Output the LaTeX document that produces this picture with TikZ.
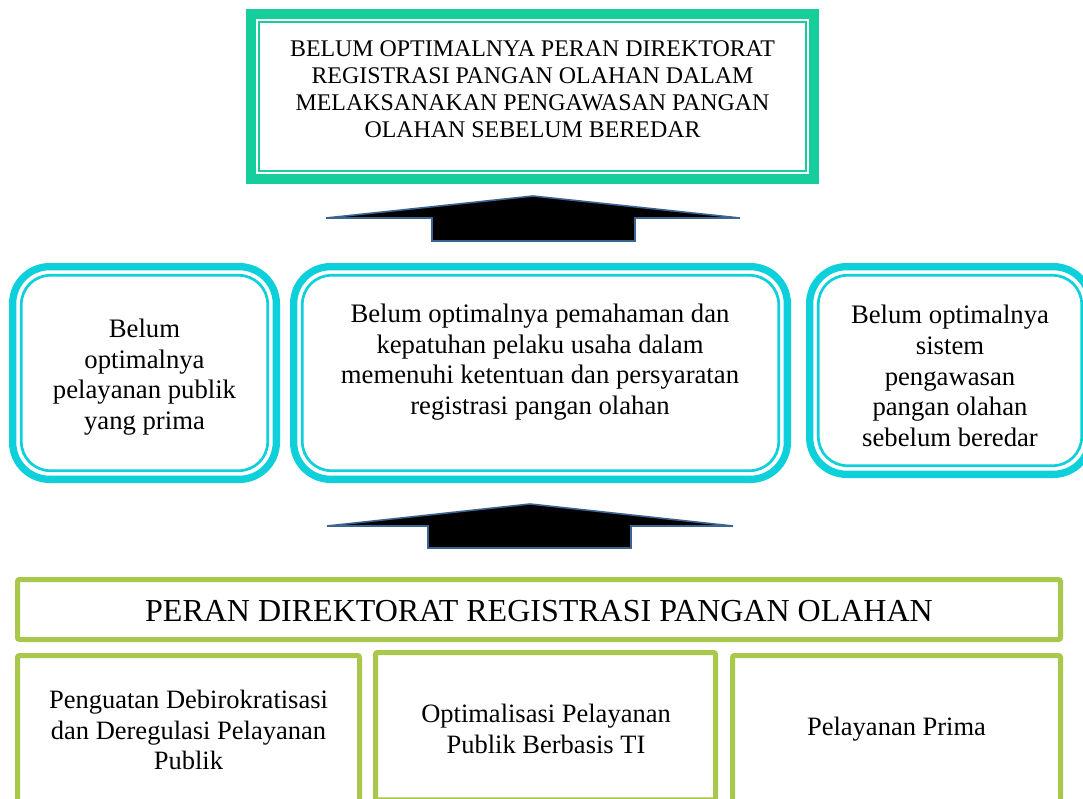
\documentclass[tikz,border=0pt]{standalone}
\usepackage{fontspec}
\setmainfont{Liberation Serif}
\definecolor{topgreen}{RGB}{22,206,156}
\definecolor{cyanc}{RGB}{14,208,219}
\definecolor{limec}{RGB}{168,199,75}
\definecolor{arrowedge}{RGB}{60,100,145}
\begin{document}
\begin{tikzpicture}[x=1pt,y=-1pt,
  txt/.style={align=center, inner sep=0pt},
  toptxt/.style={txt, font=\fontsize{23.9}{27}\selectfont},
  midtxt/.style={txt, font=\fontsize{26.7}{30.6}\selectfont},
  bottxt/.style={txt, font=\fontsize{26.5}{30.2}\selectfont},
  headtxt/.style={txt, font=\fontsize{32}{36}\selectfont},
  topband/.style={draw=topgreen, line width=10pt},
  topline/.style={draw=topgreen, line width=2pt},
  cyanband/.style={draw=cyanc, line width=7.3pt, rounded corners=37pt},
  cyanline/.style={draw=cyanc, line width=2.7pt, rounded corners=29pt},
  limebox/.style={draw=limec, line width=5pt, rounded corners=2pt},
  blockarrow/.style={draw=arrowedge, fill=black, line width=1.6pt, line join=miter}]
\useasboundingbox (0,0) rectangle (1083,798);
\fill[white] (0,0) rectangle (1083,798);

% top box
\draw[topband] (251,14) rectangle (814,179);
\draw[topline] (259,22) rectangle (806,171);
\node[toptxt] (top) at (532.5,89) {BELUM OPTIMALNYA PERAN DIREKTORAT\\REGISTRASI PANGAN OLAHAN DALAM\\MELAKSANAKAN PENGAWASAN PANGAN\\OLAHAN SEBELUM BEREDAR};

% upper block arrow
\draw[blockarrow] (533,196) -- (326,218) -- (432,218) -- (432,241) -- (635,241) -- (635,218) -- (740,218) -- cycle;

% middle rounded boxes
\draw[cyanband] (12.65,266.65) rectangle (276.35,479.35);
\draw[cyanline] (21.3,275.3) rectangle (267.7,470.7);
\node[midtxt] (m1) at (144.5,377) {Belum\\optimalnya\\pelayanan publik\\yang prima};

\draw[cyanband] (293.65,266.65) rectangle (787.35,479.35);
\draw[cyanline] (302.3,275.3) rectangle (778.7,470.7);
\node[midtxt] (m2) at (540,362) {Belum optimalnya pemahaman dan\\kepatuhan pelaku usaha dalam\\memenuhi ketentuan dan persyaratan\\registrasi pangan olahan};

\draw[cyanband] (809.65,266.65) rectangle (1090.35,474.35);
\draw[cyanline] (818.3,275.3) rectangle (1081.7,465.7);
\node[midtxt] (m3) at (950,376) {Belum optimalnya\\sistem\\pengawasan\\pangan olahan\\sebelum beredar};

% lower block arrow
\draw[blockarrow] (530,504) -- (327,526) -- (428,526) -- (428,548) -- (631,548) -- (631,526) -- (733,526) -- cycle;

% bottom boxes
\draw[limebox] (17.5,579.5) rectangle (1060.5,639.5);
\node[headtxt] (head) at (539,611) {PERAN DIREKTORAT REGISTRASI PANGAN OLAHAN};

\draw[limebox] (17.5,655.5) rectangle (359.5,820);
\draw[limebox] (375.5,652.5) rectangle (715.5,799.8);
\draw[limebox] (732.5,655.5) rectangle (1060.5,820);
\node[bottxt] (b1) at (188.5,730) {Penguatan Debirokratisasi\\dan Deregulasi Pelayanan\\Publik};
\node[bottxt] (b2) at (546,729) {Optimalisasi Pelayanan\\Publik Berbasis TI};
\node[bottxt] (b3) at (896.5,729) {Pelayanan Prima};
\end{tikzpicture}
\end{document}
